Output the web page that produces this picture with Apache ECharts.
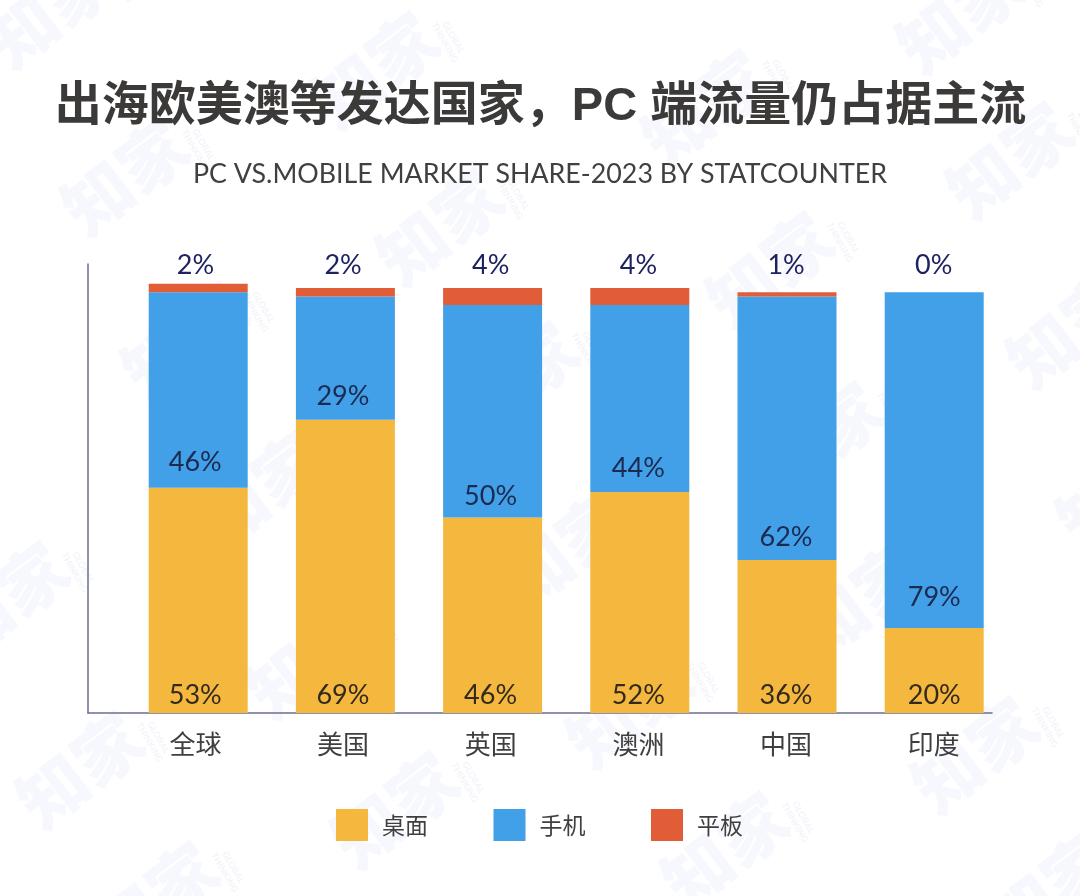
<!DOCTYPE html>
<html><head><meta charset="utf-8">
<style>html,body{margin:0;padding:0;background:#fff}#c{width:1080px;height:896px}</style>
<script src="https://cdn.jsdelivr.net/npm/echarts@6/dist/echarts.min.js"></script>
</head><body><div id="c"></div>
<script>
const titleText = '出海欧美澳等发达国家，PC 端流量仍占据主流';
const subtitleText = 'PC VS.MOBILE MARKET SHARE-2023 BY STATCOUNTER';
const categories = ['全球','美国','英国','澳洲','中国','印度'];
const desktop = [53,69,46,52,36,20];
const mobile = [46,29,50,44,62,79];
const tablet = [2,2,4,4,1,0];
const seriesNames = ['桌面','手机','平板'];
const mobileLabelLift = [12,10,8,10,9,17];
const labelNudge = [-3,-2.5,-2,-1.5,-1,0];
const watermarkSpots = [[50,10],[375,70],[705,108],[960,15],[1010,160],[125,177],[440,227],[770,270],[1070,330],
  [185,340],[515,380],[820,440],[260,490],[565,550],[1120,490],[5,600],[310,660],[860,600],
  [80,770],[630,710],[975,755],[395,810],[725,850],[1050,890],[155,900]];

const CJK = '"Noto Sans CJK SC"';
const NUM = 'Lato';
const marks = [];
watermarkSpots.forEach(p => {
  marks.push({type:'text', x:p[0], y:p[1], rotation:0.65, z:-10, silent:true,
    style:{text:'知家', fontFamily:CJK, fontWeight:900, fontSize:68, fill:'#f7f8fd', align:'center', verticalAlign:'middle'}});
  marks.push({type:'text', x:p[0]+74, y:p[1]-30, rotation:-1.05, z:-10, silent:true,
    style:{text:'GLOBAL\nTHINKING', fontFamily:'Lato', fontWeight:700, fontSize:9, lineHeight:10, fill:'#f2f4f9', align:'center', verticalAlign:'middle'}});
});

const barLabel = (color, distance) => ({show:true, position:'insideBottom', distance, color, fontFamily:NUM, fontSize:27});
const axisColor = '#6c6f92';
const option = {
  backgroundColor:'#fff', animation:false,
  title:[
    {text:titleText, left:535.5, top:79, textAlign:'center', textStyle:{fontFamily:'"Liberation Sans",'+CJK, fontWeight:'bold', fontSize:47, color:'#3c3a39'}},
    {text:subtitleText, left:535, top:156, textAlign:'center', textStyle:{fontFamily:NUM, fontWeight:400, fontSize:26.8, color:'#404040'}}
  ],
  legend:{left:331, top:804, itemWidth:32, itemHeight:32, itemGap:65.5, icon:'rect', data:seriesNames,
    textStyle:{fontFamily:CJK, fontSize:23, color:'#3f3f3f', padding:[0,0,0,9]}},
  grid:[
    {left:124.6, width:883.2, top:283.75, height:429.25},
    {left:88, width:904, top:264, height:449},
    {left:121.6, width:886, top:283.75, height:429.25}
  ],
  xAxis:[
    {type:'category', gridIndex:0, data:categories, axisLine:{show:false}, axisTick:{show:false}, axisLabel:{show:false}},
    {type:'category', gridIndex:1, data:[''], axisLine:{show:true, lineStyle:{color:axisColor, width:1.5}}, axisTick:{show:false}, axisLabel:{show:false}},
    {type:'category', gridIndex:2, data:categories, axisLine:{show:false}, axisTick:{show:false},
      axisLabel:{color:'#3f3f3f', fontFamily:CJK, fontSize:26, margin:18}},
    {type:'category', gridIndex:2, position:'top', data:tablet.map(v => v + '%'), axisLine:{show:false}, axisTick:{show:false},
      axisLabel:{color:'#1d2260', fontFamily:NUM, fontSize:27, margin:5}}
  ],
  yAxis:[
    {type:'value', gridIndex:0, min:0, max:101, show:false, splitLine:{show:false}},
    {type:'value', gridIndex:1, min:0, max:100, axisLine:{show:true, lineStyle:{color:axisColor, width:1.5}}, axisTick:{show:false}, axisLabel:{show:false}, splitLine:{show:false}},
    {type:'value', gridIndex:2, min:0, max:101, show:false, splitLine:{show:false}}
  ],
  series:[
    {name:seriesNames[0], type:'bar', stack:'s', barWidth:99, xAxisIndex:0, yAxisIndex:0, itemStyle:{color:'#f5b83f'},
      data:desktop.map((v,i) => ({value:v, label:{offset:[labelNudge[i],0], formatter:v + '%'}})), label:barLabel('#33291f',4)},
    {name:seriesNames[1], type:'bar', stack:'s', barWidth:99, xAxisIndex:0, yAxisIndex:0, itemStyle:{color:'#42a0e8'},
      data:mobile.map((v,i) => ({value:v, label:{distance:mobileLabelLift[i], offset:[labelNudge[i],0], formatter:v + '%'}})), label:barLabel('#1b2a50',10)},
    {name:seriesNames[2], type:'bar', stack:'s', barWidth:99, xAxisIndex:0, yAxisIndex:0, data:tablet, itemStyle:{color:'#e05d38'}}
  ],
  graphic:marks
};
const chart = echarts.init(document.getElementById('c'), null, {renderer:'canvas'});
chart.setOption(option);
</script></body></html>
